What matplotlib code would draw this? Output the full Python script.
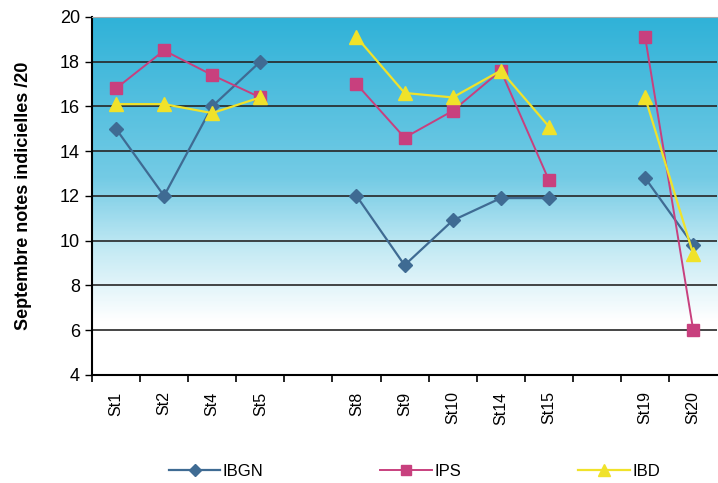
import numpy as np
import matplotlib
matplotlib.use("Agg")
import matplotlib.pyplot as plt
from matplotlib.colors import LinearSegmentedColormap

plt.rcParams['font.family'] = ['Liberation Sans', 'DejaVu Sans']

# ================================================================================
# data (blank categories = gaps between station groups)
stations = ["St1", "St2", "St4", "St5", "", "St8", "St9", "St10", "St14", "St15", "", "St19", "St20"]
ibgn = [15, 12, 16, 18, np.nan, 12, 8.9, 10.9, 11.9, 11.9, np.nan, 12.8, 9.8]
ips = [16.8, 18.5, 17.4, 16.4, np.nan, 17.0, 14.6, 15.8, 17.6, 12.7, np.nan, 19.1, 6.0]
ibd = [16.1, 16.1, 15.7, 16.4, np.nan, 19.1, 16.6, 16.4, 17.6, 15.1, np.nan, 16.4, 9.4]

# ================================================================================
fig = plt.figure(figsize=(7.18, 4.83), dpi=100)
ax = fig.add_axes([0.128, 0.224, 0.871, 0.741])

x = np.arange(len(stations))
ax.set_xlim(-0.5, len(stations) - 0.5)
ax.set_ylim(4, 20)

# background gradient: blue at top fading to white around 8
cmap = LinearSegmentedColormap.from_list("bg", [(0.0, "#ffffff"), (0.15, "#ffffff"),
                                                (0.35, "#c4eaf4"), (0.55, "#74cbe5"),
                                                (1.0, "#30b2d8")])
grad = np.linspace(4, 20, 300).reshape(-1, 1)
ax.imshow(grad, extent=[-0.5, len(stations) - 0.5, 4, 20], origin="lower",
          aspect="auto", cmap=cmap, vmin=4, vmax=20, zorder=0)

ax.set_yticks(range(4, 21, 2))
for yv in range(6, 21, 2):
    ax.axhline(yv, color="#262626", lw=1.2, zorder=1)

ax.plot(x, ibgn, color="#3f6b93", lw=1.6, marker="D", ms=7, label="IBGN", zorder=3)
ax.plot(x, ips, color="#c8407e", lw=1.4, marker="s", ms=8, label="IPS", zorder=3)
ax.plot(x, ibd, color="#f0e22a", lw=1.6, marker="^", ms=10, label="IBD", zorder=4)

# category labels at centers, tick marks at boundaries
ax.set_xticks(x)
ax.set_xticklabels(stations, rotation=90, fontsize=11.5)
ax.tick_params(axis="x", which="major", length=0, pad=12)
ax.set_xticks(np.arange(-0.5, len(stations) - 0.5, 1), minor=True)
ax.tick_params(axis="x", which="minor", length=5, width=1.2, color="black")
ax.tick_params(axis="y", labelsize=13, length=5, width=1)

for side in ["left", "bottom"]:
    ax.spines[side].set_linewidth(1.5)
    ax.spines[side].set_color("black")
ax.spines["top"].set_color("#aaaaaa")
ax.spines["right"].set_visible(False)

ax.set_ylabel("Septembre notes indicielles /20", fontsize=13, fontweight="bold", labelpad=20)

fig.legend(loc="lower center", bbox_to_anchor=(0.577, -0.022), ncol=3, frameon=False,
           handlelength=3.1, handletextpad=0.15, columnspacing=7.0, fontsize=12, markerscale=0.9)

fig.savefig("out.png", dpi=100)
